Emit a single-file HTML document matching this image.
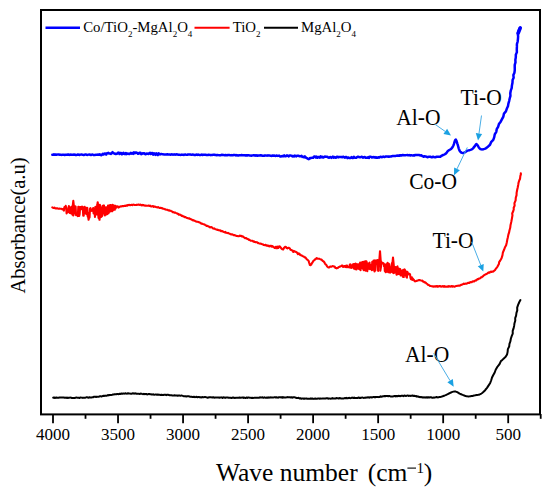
<!DOCTYPE html>
<html><head><meta charset="utf-8"><style>
html,body{margin:0;padding:0;background:#fff;}
body{width:550px;height:491px;overflow:hidden;}
svg{display:block;}
text{font-family:"Liberation Serif",serif;fill:#000;}
</style></head><body>
<svg width="550" height="491" viewBox="0 0 550 491">
<rect x="0" y="0" width="550" height="491" fill="#fff"/>
<g fill="none" stroke-linejoin="round" stroke-linecap="round">
<path d="M52.30 207.37 L52.98 207.66 L53.73 207.96 L54.38 207.60 L55.07 208.31 L55.78 208.42 L56.49 208.40 L57.17 208.31 L57.80 208.55 L58.42 208.71 L59.20 208.57 L59.95 208.82 L60.70 208.75 L61.47 208.79 L62.09 209.32 L62.76 209.48 L63.00 209.14 L63.45 209.77 L63.90 210.62 L64.35 207.29 L64.80 206.91 L65.25 208.01 L65.70 205.86 L66.15 207.48 L66.60 213.39 L67.05 212.25 L67.50 210.72 L67.95 212.13 L68.40 208.27 L68.85 206.10 L69.30 206.68 L69.75 212.87 L70.20 211.45 L70.65 208.05 L71.10 213.48 L71.55 206.71 L72.00 207.69 L72.45 214.75 L72.90 206.73 L72.20 210.64 L73.30 200.80 L74.40 210.64 L73.35 215.54 L73.80 213.78 L74.25 212.91 L74.70 206.16 L75.15 207.03 L75.60 206.50 L76.05 215.21 L76.50 214.19 L76.95 215.21 L77.40 214.72 L77.85 216.09 L78.30 206.88 L78.75 206.84 L79.20 216.06 L79.65 213.92 L80.10 207.11 L80.55 207.74 L81.00 209.33 L81.45 206.89 L81.90 208.61 L82.35 206.67 L82.80 207.85 L83.25 215.74 L83.70 215.70 L84.15 208.00 L84.60 206.71 L85.05 213.27 L85.50 208.78 L85.95 207.82 L86.40 214.12 L86.85 208.24 L87.30 207.84 L87.75 216.63 L88.20 216.76 L87.50 212.30 L88.60 219.80 L89.70 212.30 L88.65 214.05 L89.10 217.81 L89.55 217.55 L90.00 208.82 L90.45 208.10 L90.90 210.74 L91.35 210.04 L91.80 210.83 L92.25 210.13 L92.70 209.33 L93.15 208.05 L93.60 213.46 L94.05 208.58 L94.50 209.42 L94.95 216.95 L95.40 206.89 L95.85 208.83 L96.30 207.50 L96.75 214.42 L97.20 204.51 L97.65 214.24 L96.60 211.29 L97.70 202.20 L98.80 211.29 L98.10 212.55 L98.55 217.92 L99.00 216.80 L99.45 206.54 L98.40 210.88 L99.50 219.80 L100.60 210.88 L99.90 204.76 L100.35 216.65 L100.80 207.32 L101.25 216.96 L101.70 216.24 L102.15 215.86 L102.60 205.91 L103.05 209.15 L103.50 207.02 L103.95 205.42 L104.40 214.05 L104.85 215.53 L105.30 213.41 L105.75 207.27 L106.20 207.36 L106.65 214.45 L107.10 213.09 L107.55 213.78 L108.00 205.66 L108.45 213.31 L108.90 212.33 L109.35 205.38 L109.80 205.37 L110.25 211.49 L110.70 204.93 L111.15 210.17 L111.60 206.72 L112.05 211.31 L112.50 204.70 L112.95 210.45 L113.40 205.26 L113.85 207.19 L114.30 209.68 L114.75 209.76 L115.20 205.67 L115.65 208.37 L116.10 206.65 L116.55 206.42 L117.00 206.62 L117.45 206.42 L117.90 206.72 L118.35 207.65 L118.80 206.76 L119.03 207.28 L119.82 206.70 L120.43 206.41 L121.04 206.43 L121.65 206.47 L122.44 205.97 L123.23 206.12 L124.02 205.90 L124.81 205.91 L125.59 205.97 L126.39 205.40 L127.19 205.64 L127.80 205.06 L128.58 205.10 L129.36 204.86 L130.13 205.31 L130.90 205.01 L131.67 204.74 L132.45 205.22 L133.24 204.73 L133.84 204.62 L134.45 204.89 L135.07 205.07 L135.70 205.07 L136.34 204.93 L137.00 204.64 L137.74 204.87 L138.50 204.57 L139.27 204.85 L140.07 204.71 L140.67 204.63 L141.28 205.36 L141.89 205.02 L142.50 204.91 L143.12 205.35 L143.74 205.05 L144.36 205.54 L144.97 205.66 L145.59 205.48 L146.20 205.62 L146.81 205.71 L147.41 205.72 L148.20 205.61 L148.81 205.49 L149.42 206.03 L150.02 205.62 L150.62 206.16 L151.42 206.41 L152.21 206.34 L153.01 206.11 L153.80 206.87 L154.60 206.55 L155.39 206.73 L156.19 207.21 L156.99 207.30 L157.59 207.46 L158.20 207.12 L158.98 207.65 L159.75 208.02 L160.53 207.81 L161.30 208.08 L162.08 208.15 L162.86 208.70 L163.63 208.68 L164.42 209.14 L165.20 209.19 L165.98 209.75 L166.76 209.73 L167.54 209.82 L168.33 210.35 L169.11 210.30 L169.87 210.70 L170.62 210.76 L171.36 211.15 L172.11 211.49 L172.85 212.30 L173.60 212.16 L174.35 212.65 L175.09 212.54 L175.84 212.87 L176.59 213.17 L177.33 213.71 L178.08 213.89 L178.83 214.74 L179.57 214.48 L180.31 214.82 L181.07 215.20 L181.82 215.96 L182.57 215.74 L183.33 216.58 L184.08 216.48 L184.83 217.19 L185.58 217.12 L186.33 217.62 L187.08 218.00 L187.83 218.15 L188.58 218.47 L189.33 218.37 L190.09 219.06 L190.84 219.11 L191.59 219.74 L192.34 219.76 L193.09 220.49 L193.84 220.25 L194.59 220.79 L195.35 221.12 L196.10 221.57 L196.85 221.79 L197.60 221.72 L198.35 221.99 L199.11 222.35 L199.86 222.59 L200.61 223.02 L201.36 223.71 L202.11 223.64 L202.86 223.97 L203.62 224.15 L204.37 224.46 L205.12 224.98 L205.87 225.31 L206.62 225.86 L207.37 225.92 L208.13 226.35 L208.88 226.57 L209.63 227.16 L210.38 227.41 L211.13 227.06 L211.88 227.36 L212.64 228.07 L213.39 228.60 L214.16 228.40 L214.93 228.91 L215.71 229.23 L216.48 229.45 L217.26 229.97 L218.03 229.78 L218.81 230.30 L219.58 230.33 L220.35 230.34 L221.11 231.25 L221.87 230.88 L222.62 231.21 L223.37 231.81 L224.10 232.12 L224.72 232.42 L225.35 231.96 L226.00 232.67 L226.64 232.83 L227.30 233.14 L227.95 232.83 L228.59 233.23 L229.23 233.54 L229.85 233.82 L230.46 234.23 L231.25 234.38 L231.99 234.36 L232.68 234.50 L233.31 234.95 L234.00 235.32 L234.69 235.14 L235.39 235.57 L236.05 235.77 L236.78 236.01 L237.50 236.01 L238.20 236.28 L238.95 236.27 L239.75 235.66 L240.40 235.90 L241.08 235.79 L241.80 236.49 L242.42 236.30 L243.05 236.46 L243.70 237.20 L244.37 237.61 L245.07 238.11 L245.80 237.94 L246.57 238.48 L247.17 238.90 L247.80 239.03 L248.45 239.40 L249.06 239.94 L249.74 239.89 L250.47 240.63 L251.24 240.74 L252.04 240.79 L252.65 240.81 L253.28 241.60 L253.91 241.22 L254.53 241.92 L255.16 242.11 L255.78 242.06 L256.39 242.28 L257.18 242.27 L257.93 243.08 L258.64 243.12 L259.30 243.38 L260.12 243.68 L260.81 243.45 L261.57 244.05 L262.24 244.18 L262.87 244.26 L263.54 244.90 L264.30 244.93 L264.98 245.11 L265.66 244.82 L266.33 245.57 L267.07 245.85 L267.87 245.41 L268.50 246.18 L269.14 245.77 L269.80 246.34 L270.47 245.76 L271.13 245.70 L271.80 246.64 L272.45 245.99 L273.08 246.79 L273.70 247.04 L274.47 247.89 L275.18 248.09 L275.82 246.88 L276.44 246.75 L277.04 248.31 L277.79 246.52 L278.40 247.92 L279.05 246.42 L279.76 246.31 L280.37 247.23 L281.06 247.99 L281.74 248.83 L282.46 249.22 L283.19 249.45 L283.80 248.14 L284.45 247.58 L285.19 246.69 L285.92 246.96 L286.62 248.00 L287.39 248.39 L288.18 247.72 L288.98 247.86 L289.75 248.33 L290.48 249.66 L291.22 249.94 L291.95 250.47 L292.66 250.45 L293.33 252.02 L293.96 251.03 L294.63 251.18 L295.24 251.76 L295.94 251.87 L296.62 252.15 L297.34 253.11 L298.01 254.21 L298.71 253.41 L299.53 253.71 L300.15 255.07 L300.79 255.27 L301.51 255.31 L302.27 255.92 L303.05 256.31 L303.81 256.60 L304.52 257.36 L305.18 257.31 L305.86 257.98 L306.50 259.00 L307.24 259.69 L307.91 260.06 L308.61 260.88 L309.07 262.57 L309.48 263.60 L309.81 265.05 L310.50 265.17 L311.14 264.73 L311.84 263.21 L312.47 262.53 L313.14 261.27 L313.87 260.42 L314.49 260.03 L315.13 259.29 L315.76 259.17 L316.50 258.16 L317.13 258.20 L317.74 258.69 L318.52 258.81 L319.30 258.69 L320.06 259.09 L320.81 259.46 L321.56 259.56 L322.31 260.55 L323.02 261.18 L323.67 261.50 L324.33 262.28 L324.98 263.56 L325.64 264.44 L326.33 264.92 L327.03 266.23 L327.72 266.96 L328.37 267.49 L329.10 267.57 L329.84 266.82 L330.59 266.46 L331.38 266.69 L331.98 266.41 L332.60 266.01 L333.22 266.33 L334.00 266.63 L334.64 266.56 L335.36 267.94 L335.98 268.07 L336.65 268.37 L337.29 268.02 L337.98 267.99 L338.70 266.93 L339.44 266.86 L340.19 266.48 L340.95 266.23 L341.73 265.54 L342.53 265.55 L343.00 266.94 L343.45 266.75 L343.90 266.43 L344.35 266.10 L344.80 266.08 L345.25 267.02 L345.70 265.81 L346.15 267.17 L346.60 265.53 L347.05 265.63 L347.50 267.06 L347.95 267.26 L348.40 267.03 L348.85 267.10 L349.30 267.31 L349.75 264.78 L350.20 264.35 L350.65 267.67 L351.10 267.01 L351.55 267.88 L352.00 266.82 L352.45 264.59 L352.90 264.94 L353.35 264.22 L353.80 268.56 L354.25 264.08 L354.70 267.45 L355.15 269.14 L355.60 263.61 L356.05 264.32 L356.50 269.34 L356.95 264.27 L357.40 268.47 L357.85 264.40 L358.30 267.00 L358.75 268.86 L359.20 264.14 L359.65 269.13 L360.10 262.50 L360.55 270.21 L361.00 264.07 L361.45 262.58 L361.90 264.57 L362.35 262.09 L362.80 268.62 L363.25 261.86 L363.70 270.10 L364.15 264.86 L364.60 269.40 L365.05 261.38 L365.50 270.61 L365.95 261.35 L366.40 261.23 L366.85 262.81 L367.30 271.20 L367.75 263.84 L368.20 268.88 L368.65 263.54 L369.10 263.26 L369.55 262.67 L370.00 269.12 L370.45 268.47 L370.90 264.95 L371.35 265.00 L371.80 270.17 L372.25 261.76 L372.70 267.88 L373.15 269.70 L373.60 260.48 L374.05 261.51 L374.50 271.50 L374.95 260.35 L375.40 270.53 L375.85 262.02 L376.30 263.31 L376.75 260.42 L377.20 262.99 L377.65 260.00 L378.10 270.83 L378.55 262.59 L379.00 261.67 L379.45 261.89 L379.90 260.36 L378.90 266.13 L380.00 251.20 L381.10 266.13 L380.35 270.65 L380.80 260.71 L381.25 262.90 L381.70 262.94 L382.15 262.63 L382.60 262.78 L383.05 263.93 L383.50 263.41 L383.95 266.05 L384.40 264.33 L384.85 271.09 L385.30 271.54 L385.75 272.19 L386.20 264.19 L386.65 269.59 L387.10 271.67 L387.55 262.81 L388.00 271.70 L388.45 272.25 L388.90 263.79 L389.35 272.38 L389.80 272.39 L390.25 272.60 L390.70 272.10 L391.15 266.62 L391.60 264.43 L392.05 262.94 L392.50 272.21 L392.95 272.54 L391.90 268.24 L393.00 257.60 L394.10 268.24 L393.40 268.09 L393.85 273.08 L394.30 272.66 L394.75 270.61 L395.20 271.98 L395.65 266.97 L396.10 272.12 L396.55 274.65 L397.00 267.15 L397.45 266.46 L397.90 274.31 L398.35 272.23 L398.80 268.51 L399.25 273.83 L399.70 272.00 L400.15 269.08 L400.60 275.50 L401.05 274.44 L401.50 275.18 L401.95 270.63 L402.40 274.52 L402.85 276.73 L403.30 269.88 L403.75 277.07 L404.20 270.92 L404.65 269.43 L405.10 270.45 L405.55 270.96 L406.00 275.59 L406.45 277.00 L406.90 277.57 L407.35 271.77 L407.80 274.58 L408.25 273.25 L408.70 274.03 L409.15 274.29 L409.60 273.84 L410.05 274.37 L410.50 277.87 L410.95 279.19 L411.40 278.93 L411.85 277.32 L412.30 279.86 L412.75 278.48 L413.20 279.47 L413.65 279.53 L414.37 280.85 L415.12 281.34 L415.73 281.14 L416.36 280.80 L417.02 280.85 L417.68 280.62 L418.33 280.27 L418.97 280.10 L419.59 280.07 L420.35 280.35 L421.15 280.59 L421.75 280.74 L422.47 280.66 L423.14 281.63 L423.83 281.81 L424.58 282.51 L425.30 282.35 L425.92 282.78 L426.55 283.62 L427.21 283.88 L427.89 284.71 L428.59 284.90 L429.31 285.32 L430.04 285.98 L430.80 286.08 L431.50 286.21 L432.12 286.27 L432.73 286.34 L433.36 286.74 L434.06 286.22 L434.86 286.72 L435.56 286.51 L436.37 286.00 L436.98 286.62 L437.64 286.07 L438.29 286.60 L438.90 286.44 L439.58 285.99 L440.30 286.05 L441.06 286.64 L441.66 286.45 L442.28 286.21 L442.92 286.11 L443.57 286.67 L444.24 286.06 L444.91 286.68 L445.59 286.50 L446.28 286.67 L446.97 286.71 L447.66 286.34 L448.35 286.69 L449.04 286.12 L449.72 286.51 L450.39 286.65 L451.05 286.29 L451.69 286.11 L452.32 286.56 L452.94 286.07 L453.72 286.45 L454.47 286.64 L455.17 286.49 L455.81 286.02 L456.74 286.07 L457.36 285.83 L458.19 285.74 L458.90 285.60 L459.51 285.61 L460.21 285.55 L460.82 284.89 L461.54 284.87 L462.30 284.60 L463.00 284.20 L463.60 283.65 L464.33 284.01 L465.09 283.75 L465.87 283.63 L466.47 283.60 L467.08 283.53 L467.69 283.03 L468.31 282.83 L468.92 282.75 L469.53 282.95 L470.13 282.15 L470.91 282.31 L471.67 282.21 L472.40 281.46 L473.19 281.27 L473.97 281.51 L474.73 280.99 L475.48 280.38 L476.21 280.43 L476.92 279.67 L477.62 279.16 L478.29 279.26 L478.96 278.59 L479.60 278.47 L480.37 278.10 L481.10 277.22 L481.80 277.17 L482.48 276.52 L483.14 276.22 L483.79 275.37 L484.44 275.03 L485.10 274.62 L485.86 274.20 L486.62 273.86 L487.38 273.54 L488.13 272.74 L488.85 272.38 L489.54 272.71 L490.20 271.92 L490.87 271.54 L491.49 271.99 L492.27 271.49 L493.03 271.65 L493.80 271.13 L494.48 270.44 L495.09 270.08 L495.70 268.84 L496.32 268.17 L496.93 267.32 L497.54 266.59 L498.99 263.80 L499.12 262.11 L500.13 260.75 L501.55 258.23 L502.49 255.11 L502.89 252.46 L503.96 250.05 L504.86 247.59 L506.13 245.31 L506.78 242.54 L507.27 239.84 L507.87 237.21 L508.37 234.63 L509.02 232.67 L509.52 230.21 L510.22 227.78 L510.49 225.34 L511.06 222.88 L511.40 221.31 L511.94 218.41 L512.47 215.26 L512.19 213.48 L513.28 211.05 L513.75 209.49 L513.69 207.79 L514.63 205.61 L514.44 203.22 L515.62 200.37 L515.77 197.70 L516.56 195.09 L516.60 192.89 L517.13 190.05 L517.77 187.23 L518.23 184.74 L518.56 182.63 L519.34 180.27 L520.05 178.70 L520.36 175.90 L520.89 174.36 L520.80 173.20" stroke="#ff0000" stroke-width="2.1"/>
<path d="M52.30 154.78 L53.08 154.77 L53.89 154.35 L54.72 154.82 L55.49 154.40 L56.40 154.69 L57.16 154.60 L58.01 154.40 L58.96 154.53 L60.00 154.85 L60.72 154.82 L61.50 154.89 L62.33 154.65 L63.21 154.75 L63.95 154.76 L64.71 154.94 L65.49 154.77 L66.29 154.84 L67.11 154.81 L67.95 154.50 L68.80 154.52 L69.66 154.91 L70.53 154.58 L71.41 154.82 L72.29 154.70 L73.17 154.62 L74.05 154.68 L74.93 154.60 L75.80 154.99 L76.67 155.01 L77.52 154.57 L78.36 154.62 L79.19 154.96 L80.00 154.70 L80.81 154.62 L81.62 154.60 L82.45 154.66 L83.29 154.89 L84.13 154.96 L84.98 154.49 L85.83 154.54 L86.68 154.75 L87.53 154.93 L88.38 154.63 L89.23 154.53 L90.08 154.67 L90.92 154.99 L91.75 154.62 L92.58 154.51 L93.39 154.98 L94.19 154.88 L94.98 154.92 L95.75 154.83 L96.51 154.87 L97.25 154.68 L97.97 154.60 L98.84 154.75 L99.68 154.23 L100.53 154.92 L101.29 155.22 L102.03 154.76 L102.74 153.79 L103.66 154.50 L104.53 153.48 L105.36 153.56 L106.17 154.59 L106.94 153.20 L107.69 153.20 L108.41 152.85 L109.12 153.44 L109.98 153.56 L110.83 153.87 L111.67 153.27 L112.49 152.15 L113.40 152.90 L114.23 153.52 L115.02 153.79 L115.76 154.03 L116.49 153.75 L117.21 153.73 L117.95 152.79 L118.73 152.59 L119.56 154.03 L120.36 153.09 L121.11 152.93 L121.87 154.30 L122.65 153.97 L123.45 152.82 L124.26 153.78 L125.08 154.13 L125.90 152.97 L126.73 154.07 L127.56 153.42 L128.38 153.90 L129.19 154.11 L130.00 153.65 L130.80 152.86 L131.60 153.71 L132.40 152.96 L133.20 153.80 L134.00 152.31 L134.80 153.28 L135.60 152.48 L136.40 152.56 L137.20 152.90 L138.00 153.85 L138.80 153.52 L139.60 152.73 L140.40 152.67 L141.20 154.22 L142.00 153.78 L142.80 153.15 L143.60 153.53 L144.40 153.18 L145.20 154.19 L146.00 154.20 L146.80 153.44 L147.60 153.86 L148.40 153.92 L149.20 153.25 L150.00 152.77 L150.77 154.03 L151.49 153.27 L152.35 152.94 L153.19 154.71 L154.03 153.30 L154.73 153.90 L155.47 154.83 L156.27 153.27 L157.13 154.51 L157.84 155.07 L158.59 153.38 L159.42 153.85 L160.15 154.40 L160.93 154.06 L161.76 154.11 L162.64 154.31 L163.36 154.33 L164.11 154.54 L164.87 154.50 L165.66 154.60 L166.46 154.44 L167.28 154.24 L168.11 154.42 L168.95 154.42 L169.80 154.52 L170.66 154.69 L171.52 154.35 L172.39 154.49 L173.25 154.66 L174.12 154.36 L174.98 154.70 L175.84 154.41 L176.69 154.37 L177.54 154.38 L178.37 154.77 L179.19 154.63 L180.00 154.80 L180.80 154.91 L181.60 154.62 L182.40 154.81 L183.20 154.79 L184.00 154.92 L184.80 154.50 L185.60 154.53 L186.40 154.87 L187.20 154.71 L188.00 154.49 L188.80 154.54 L189.60 154.57 L190.40 154.59 L191.20 154.73 L192.00 154.68 L192.80 154.54 L193.60 154.63 L194.40 155.02 L195.20 155.04 L196.00 154.67 L196.80 154.56 L197.60 154.92 L198.40 154.57 L199.20 154.89 L200.00 154.93 L200.80 154.88 L201.60 154.53 L202.40 155.05 L203.20 154.80 L204.00 154.75 L204.80 154.70 L205.60 154.73 L206.40 154.93 L207.20 155.05 L208.00 154.97 L208.80 154.65 L209.60 154.88 L210.40 155.14 L211.20 154.88 L212.00 155.11 L212.80 154.82 L213.60 154.68 L214.40 154.65 L215.20 154.99 L216.00 155.09 L216.80 155.22 L217.60 154.93 L218.40 155.13 L219.20 155.21 L220.00 155.26 L220.80 155.17 L221.60 154.80 L222.40 154.86 L223.20 155.10 L224.00 155.08 L224.80 155.32 L225.60 154.89 L226.40 155.30 L227.20 155.20 L228.00 154.99 L228.80 155.05 L229.60 155.08 L230.40 155.37 L231.20 155.07 L232.00 155.34 L232.80 155.33 L233.60 154.94 L234.40 155.03 L235.20 154.98 L236.00 155.49 L236.80 155.04 L237.60 155.43 L238.40 155.54 L239.20 155.18 L240.00 155.22 L240.80 155.20 L241.60 155.09 L242.40 155.28 L243.20 155.17 L244.00 155.27 L244.80 155.34 L245.60 155.60 L246.40 155.14 L247.20 155.56 L248.00 155.21 L248.80 155.31 L249.60 155.40 L250.40 155.61 L251.20 155.69 L252.00 155.52 L252.80 155.36 L253.60 155.19 L254.40 155.55 L255.20 155.24 L256.00 155.74 L256.80 155.22 L257.60 155.71 L258.40 155.40 L259.20 155.61 L260.00 155.31 L260.80 155.25 L261.60 155.50 L262.40 155.74 L263.20 155.77 L264.00 155.84 L264.80 155.39 L265.60 155.46 L266.40 155.62 L267.20 155.66 L268.00 155.31 L268.80 155.59 L269.60 155.55 L270.40 155.64 L271.20 155.91 L272.00 155.81 L272.80 155.46 L273.60 155.84 L274.40 155.54 L275.20 155.97 L276.00 155.80 L276.80 155.58 L277.60 155.88 L278.40 155.73 L279.20 155.62 L280.00 156.45 L280.81 156.50 L281.65 156.31 L282.50 155.92 L283.37 156.34 L284.26 155.44 L285.15 156.30 L286.05 156.19 L286.96 155.31 L287.86 155.78 L288.77 156.35 L289.67 155.50 L290.56 155.57 L291.44 155.63 L292.30 156.40 L293.15 155.91 L293.98 156.54 L294.78 155.51 L295.56 156.05 L296.31 156.41 L297.02 155.76 L297.87 155.77 L298.65 155.84 L299.36 156.37 L300.56 156.24 L301.48 155.75 L302.41 156.96 L303.16 156.65 L304.00 157.34 L304.84 156.44 L305.62 157.17 L306.34 158.10 L307.20 158.27 L307.90 158.85 L308.68 159.13 L309.40 158.81 L310.16 157.93 L311.00 157.95 L311.80 157.83 L312.51 157.65 L313.21 157.75 L314.11 156.51 L314.96 156.46 L316.00 157.60 L316.71 156.67 L317.48 157.66 L318.30 157.05 L319.17 157.11 L319.90 157.60 L320.66 156.36 L321.45 157.27 L322.27 156.69 L323.11 157.53 L323.97 157.06 L324.85 156.52 L325.75 156.69 L326.67 156.63 L327.61 157.02 L328.32 157.60 L329.03 157.78 L329.76 157.22 L330.51 157.05 L331.39 157.85 L332.10 157.27 L332.82 156.64 L333.55 157.58 L334.30 157.10 L335.05 157.60 L335.82 157.75 L336.59 157.00 L337.38 156.66 L338.17 157.37 L338.97 157.01 L339.78 156.88 L340.60 157.03 L341.42 156.90 L342.26 157.33 L343.10 156.67 L343.94 157.22 L344.79 157.63 L345.65 156.98 L346.51 156.94 L347.38 158.07 L348.25 157.44 L349.12 157.97 L350.00 157.97 L350.74 157.89 L351.50 157.15 L352.27 158.03 L353.06 157.91 L353.86 156.83 L354.67 157.80 L355.49 157.70 L356.32 157.73 L357.16 157.09 L358.00 156.69 L358.85 157.07 L359.70 157.16 L360.55 157.23 L361.40 156.74 L362.25 157.00 L363.10 157.63 L363.94 157.27 L364.78 157.07 L365.62 157.77 L366.44 157.62 L367.26 157.77 L368.07 157.13 L368.87 157.99 L369.65 156.71 L370.42 156.65 L371.17 156.87 L371.91 157.50 L372.62 157.20 L373.49 156.97 L374.25 157.40 L374.99 156.98 L375.71 157.78 L376.42 157.32 L377.35 157.78 L378.26 157.16 L379.14 157.66 L380.01 156.92 L380.85 156.74 L381.67 157.16 L382.48 156.98 L383.27 156.56 L384.04 156.96 L384.79 156.90 L385.53 156.53 L386.25 156.42 L386.96 156.41 L387.83 156.67 L388.68 156.48 L389.51 156.66 L390.26 156.42 L390.97 156.59 L391.84 156.18 L392.61 156.06 L393.31 156.08 L394.13 156.08 L394.94 156.00 L395.77 155.90 L396.48 155.70 L397.27 155.59 L398.15 155.68 L398.89 155.49 L399.71 155.66 L400.47 155.16 L401.32 155.59 L402.06 155.23 L402.84 154.98 L403.66 155.37 L404.52 155.31 L405.40 155.25 L406.31 155.12 L407.23 154.98 L408.16 155.27 L408.87 155.34 L409.57 155.09 L410.27 155.51 L410.98 155.16 L411.90 155.30 L412.81 155.39 L413.70 155.35 L414.56 155.39 L415.38 154.89 L416.17 154.95 L416.92 154.99 L417.78 154.94 L418.56 155.05 L419.37 154.96 L420.39 155.58 L421.34 155.33 L422.15 155.95 L422.89 156.20 L423.69 156.73 L424.44 156.27 L425.31 156.52 L426.09 156.51 L426.97 157.01 L427.76 157.22 L428.64 156.80 L429.43 156.65 L430.28 156.73 L431.17 157.19 L432.09 157.33 L432.80 156.70 L433.50 156.73 L434.20 157.11 L435.12 157.36 L436.00 156.99 L436.84 156.65 L437.61 156.65 L438.47 156.67 L439.18 156.82 L440.25 156.78 L441.01 156.08 L441.85 155.58 L442.58 155.25 L443.39 154.89 L444.21 154.51 L444.99 154.11 L445.80 153.60 L446.57 152.83 L447.34 151.67 L448.15 150.77 L449.00 150.20 L449.75 149.78 L450.49 149.34 L451.30 148.70 L452.05 147.86 L452.77 146.75 L453.40 145.50 L453.90 144.13 L454.26 142.89 L454.62 141.65 L455.05 140.36 L455.77 139.51 L456.49 140.79 L456.87 142.04 L457.26 143.37 L457.68 144.63 L458.08 146.03 L458.43 147.33 L458.79 148.60 L459.23 149.90 L459.90 151.20 L460.61 152.07 L461.37 152.63 L462.19 152.95 L463.00 152.95 L463.85 152.74 L464.65 152.44 L465.36 152.12 L466.15 151.42 L467.00 150.90 L467.80 150.62 L468.59 150.40 L469.44 150.17 L470.30 149.92 L471.12 149.63 L471.84 149.29 L472.68 148.68 L473.43 147.89 L474.21 146.89 L475.00 145.90 L475.74 144.73 L476.52 144.03 L477.30 144.78 L478.09 146.18 L478.80 147.46 L479.70 148.58 L480.47 149.09 L481.24 149.34 L482.08 149.40 L482.85 149.35 L483.64 149.19 L484.46 148.91 L485.29 148.54 L486.05 148.11 L486.80 147.60 L487.54 147.02 L488.29 146.34 L490.01 144.73 L491.07 142.20 L493.27 139.92 L494.24 137.15 L494.74 134.38 L496.28 131.81 L496.73 129.17 L498.10 126.78 L498.92 124.04 L500.69 121.66 L502.00 119.15 L503.36 116.57 L503.98 113.59 L505.90 111.44 L506.76 108.78 L507.94 106.25 L508.39 103.60 L509.14 101.05 L509.68 98.54 L510.43 95.84 L510.28 93.23 L510.75 90.67 L511.67 88.08 L511.92 85.44 L512.48 82.79 L512.60 79.97 L513.64 77.65 L513.38 75.07 L514.44 72.67 L514.76 70.10 L514.74 67.56 L514.73 64.94 L515.48 62.41 L515.35 59.86 L515.82 57.33 L515.82 54.68 L516.88 52.13 L516.79 49.48 L516.89 46.88 L516.92 44.14 L517.69 41.49 L517.95 38.85 L518.14 36.28 L517.73 33.63 L518.52 31.03 L519.73 28.32 L520.30 27.60" stroke="#0000ff" stroke-width="2.5"/>
<path d="M518.2 33 L520.2 28" stroke="#0000ff" stroke-width="3.6"/>
<path d="M53.20 397.74 L53.98 397.42 L54.77 397.98 L55.50 397.73 L56.30 397.46 L57.16 397.74 L57.89 397.82 L58.65 397.68 L59.44 397.44 L60.26 397.47 L61.10 397.58 L61.96 397.60 L62.85 397.54 L63.75 397.53 L64.66 397.82 L65.59 397.60 L66.29 397.90 L66.99 397.49 L67.70 398.01 L68.41 397.71 L69.12 397.75 L69.82 397.61 L70.53 397.60 L71.24 397.78 L71.94 398.00 L72.86 397.97 L73.78 398.08 L74.68 398.01 L75.56 397.66 L76.43 397.48 L77.27 397.63 L78.09 397.69 L78.88 397.75 L79.64 398.02 L80.37 397.52 L81.23 397.61 L82.16 397.63 L82.89 397.91 L83.60 397.66 L84.51 397.73 L85.39 397.76 L86.24 397.24 L87.05 397.26 L87.85 397.63 L88.62 397.72 L89.37 397.16 L90.11 397.46 L90.84 397.42 L91.57 397.43 L92.29 397.29 L93.01 397.29 L93.74 396.84 L94.48 396.70 L95.23 396.68 L95.99 397.01 L96.77 396.71 L97.58 396.87 L98.42 396.79 L99.28 396.62 L100.05 396.19 L100.79 396.15 L101.55 396.55 L102.32 396.20 L103.10 395.82 L103.89 396.03 L104.68 395.76 L105.49 395.62 L106.30 395.81 L107.12 395.47 L107.94 395.09 L108.76 395.43 L109.59 394.90 L110.42 395.09 L111.25 395.04 L112.08 394.88 L112.90 394.54 L113.73 394.54 L114.54 394.25 L115.36 394.26 L116.17 394.33 L116.97 394.03 L117.77 394.08 L118.55 394.22 L119.33 393.72 L120.09 394.01 L120.84 393.72 L121.62 393.55 L122.51 393.74 L123.42 393.38 L124.33 393.68 L125.25 393.33 L126.18 393.58 L127.11 393.72 L128.03 393.27 L128.95 393.45 L129.86 393.62 L130.76 393.66 L131.65 393.74 L132.52 393.32 L133.37 393.37 L134.20 393.70 L135.00 393.30 L135.77 393.42 L136.51 393.87 L137.22 393.87 L138.04 393.63 L138.81 393.86 L139.63 393.94 L140.57 393.62 L141.47 393.65 L142.20 393.90 L143.20 394.19 L143.90 393.81 L144.69 394.24 L145.41 393.88 L146.18 393.94 L147.00 394.43 L147.86 394.27 L148.58 394.06 L149.33 393.98 L150.10 394.20 L150.89 394.24 L151.71 394.56 L152.54 394.56 L153.39 394.33 L154.25 394.73 L155.13 394.62 L156.03 394.53 L156.93 394.73 L157.84 394.46 L158.76 394.81 L159.68 394.79 L160.61 394.94 L161.53 394.67 L162.46 394.98 L163.39 394.99 L164.32 394.66 L165.24 394.73 L166.16 395.19 L167.06 394.75 L167.96 394.81 L168.85 394.96 L169.72 395.19 L170.58 395.24 L171.42 395.32 L172.25 395.47 L173.06 395.49 L173.84 395.58 L174.60 395.32 L175.34 395.51 L176.05 395.57 L176.88 395.48 L177.80 395.87 L178.69 395.43 L179.55 395.42 L180.38 395.83 L181.19 395.60 L181.97 395.62 L182.73 395.85 L183.47 396.13 L184.20 396.14 L184.91 396.26 L185.62 396.27 L186.32 396.56 L187.19 396.33 L188.06 396.22 L188.76 396.31 L189.47 396.39 L190.19 396.77 L190.91 396.73 L191.66 396.79 L192.42 397.09 L193.20 397.03 L194.00 396.77 L194.83 397.13 L195.69 397.05 L196.59 396.79 L197.51 397.28 L198.23 397.07 L198.97 396.89 L199.74 397.28 L200.49 397.24 L201.31 397.54 L202.14 396.98 L202.98 397.32 L203.83 397.16 L204.70 397.11 L205.57 397.12 L206.27 397.35 L206.99 397.45 L207.71 397.67 L208.43 397.59 L209.16 397.27 L209.90 397.25 L210.65 397.28 L211.40 397.35 L212.16 397.57 L212.92 397.23 L213.69 397.27 L214.47 397.70 L215.25 397.50 L216.04 397.61 L216.84 397.39 L217.64 397.42 L218.45 397.41 L219.26 397.73 L220.08 397.46 L220.91 397.55 L221.74 397.35 L222.58 397.90 L223.42 397.35 L224.27 397.39 L225.13 397.87 L225.99 397.41 L226.86 397.55 L227.73 397.52 L228.61 397.78 L229.50 397.71 L230.39 397.77 L231.29 397.93 L232.19 397.71 L233.10 397.49 L234.02 397.71 L234.94 397.91 L235.86 397.82 L236.79 397.86 L237.49 397.71 L238.20 397.85 L238.90 397.66 L239.62 397.47 L240.35 397.77 L241.10 397.64 L241.86 397.61 L242.63 397.40 L243.41 397.94 L244.21 397.52 L245.02 397.96 L245.83 397.89 L246.66 397.47 L247.50 397.92 L248.34 397.44 L249.20 397.59 L250.06 397.87 L250.93 397.71 L251.80 397.93 L252.68 397.87 L253.57 397.88 L254.46 397.77 L255.35 397.86 L256.25 397.71 L257.15 397.77 L258.05 397.64 L258.96 397.82 L259.87 397.30 L260.77 397.47 L261.68 397.45 L262.59 397.26 L263.49 397.76 L264.40 397.27 L265.30 397.73 L266.20 397.76 L267.10 397.45 L267.99 397.74 L268.88 397.28 L269.76 397.71 L270.64 397.29 L271.51 397.40 L272.37 397.59 L273.23 397.59 L274.08 397.34 L274.92 397.16 L275.75 397.53 L276.57 397.30 L277.39 397.56 L278.19 397.65 L278.98 397.17 L279.76 397.13 L280.52 397.28 L281.27 397.51 L282.01 397.10 L282.74 397.65 L283.45 397.20 L284.32 397.55 L285.16 397.45 L285.97 397.44 L286.76 397.37 L287.52 397.09 L288.25 397.13 L289.08 397.26 L289.87 397.21 L290.92 397.59 L291.76 397.15 L292.52 397.67 L293.53 397.29 L294.39 397.25 L295.13 397.38 L295.93 397.81 L296.70 397.99 L297.49 398.10 L298.19 397.82 L298.98 398.03 L299.80 398.60 L300.52 398.24 L301.44 398.76 L302.27 398.59 L303.24 398.53 L304.02 398.88 L304.76 398.42 L305.56 398.65 L306.39 398.39 L307.09 398.74 L307.82 398.75 L308.57 398.79 L309.34 398.85 L310.13 398.86 L310.95 398.34 L311.78 398.86 L312.63 398.56 L313.49 398.88 L314.36 398.75 L315.25 398.44 L316.15 398.68 L317.06 398.67 L317.97 398.56 L318.90 398.44 L319.82 398.86 L320.75 398.45 L321.68 398.63 L322.61 398.39 L323.54 398.43 L324.46 398.38 L325.38 398.61 L326.30 398.22 L327.21 398.22 L328.10 398.72 L328.99 398.39 L329.87 398.61 L330.73 398.65 L331.57 398.53 L332.40 398.13 L333.22 398.51 L334.01 398.49 L334.78 398.40 L335.53 398.56 L336.25 398.07 L337.12 398.25 L337.94 398.14 L338.72 398.54 L339.45 398.06 L340.40 398.18 L341.15 398.57 L342.16 398.49 L343.05 398.39 L343.82 398.46 L344.70 398.06 L345.44 398.31 L346.21 397.88 L347.00 398.29 L347.74 398.34 L348.54 397.90 L349.33 397.84 L350.09 398.22 L351.00 398.12 L351.80 397.71 L352.60 397.62 L353.46 398.11 L354.19 397.62 L354.95 397.99 L355.73 398.08 L356.54 398.04 L357.38 398.03 L358.23 397.52 L359.09 397.93 L359.97 397.67 L360.86 397.94 L361.75 397.58 L362.64 397.60 L363.54 397.92 L364.43 397.74 L365.32 397.62 L366.19 397.68 L367.06 397.33 L367.90 397.41 L368.73 397.33 L369.54 397.72 L370.32 397.18 L371.08 397.32 L371.80 397.51 L372.65 397.15 L373.45 397.06 L374.19 397.01 L375.02 397.40 L375.80 396.91 L376.52 396.92 L377.41 396.97 L378.24 397.14 L379.00 396.95 L379.73 396.91 L380.59 396.33 L381.43 396.73 L382.28 396.50 L382.98 396.34 L383.72 396.19 L384.50 395.98 L385.28 396.33 L386.04 396.07 L386.77 396.03 L387.50 395.90 L388.22 396.30 L388.95 395.92 L389.69 396.06 L390.44 396.41 L391.22 396.43 L392.04 396.49 L392.89 396.44 L393.79 396.13 L394.50 395.95 L395.24 396.41 L396.00 396.06 L396.71 395.96 L397.45 396.26 L398.23 396.04 L399.04 395.81 L399.87 396.21 L400.72 395.96 L401.58 395.73 L402.46 395.64 L403.35 396.14 L404.23 395.60 L405.12 395.77 L406.00 395.96 L406.87 395.65 L407.72 395.45 L408.55 395.99 L409.36 395.84 L410.14 395.81 L410.89 395.93 L411.61 395.66 L412.44 395.49 L413.19 395.71 L413.99 396.02 L414.70 395.83 L415.53 396.17 L416.25 396.03 L417.06 396.65 L417.83 396.40 L418.63 396.74 L419.33 397.14 L420.14 396.95 L421.07 397.18 L421.92 397.12 L422.78 397.59 L423.53 397.36 L424.32 397.46 L425.14 397.31 L425.99 397.70 L426.86 397.27 L427.75 397.66 L428.65 397.23 L429.55 397.54 L430.45 397.21 L431.34 397.36 L432.22 397.74 L433.07 397.71 L433.90 397.40 L434.69 397.68 L435.44 397.37 L436.14 397.08 L436.95 397.09 L437.69 397.46 L438.48 397.28 L439.39 397.05 L440.17 396.92 L441.03 396.73 L441.82 396.49 L442.63 396.22 L443.35 395.96 L444.17 395.68 L444.90 395.42 L445.60 395.13 L446.33 394.79 L447.10 394.43 L447.88 394.04 L448.68 393.64 L449.47 393.24 L450.27 392.86 L451.05 392.50 L451.81 392.18 L452.54 391.90 L453.41 391.64 L454.20 391.50 L454.91 391.47 L455.76 391.59 L456.52 391.84 L457.23 392.19 L458.08 392.71 L458.95 393.25 L459.69 393.65 L460.47 393.96 L461.18 394.24 L461.90 394.55 L462.63 394.87 L463.38 395.19 L464.14 395.49 L464.91 395.78 L465.69 396.03 L466.49 396.22 L467.29 396.36 L468.09 396.42 L468.90 396.41 L469.75 396.34 L470.63 396.23 L471.51 396.08 L472.39 395.91 L473.26 395.73 L474.08 395.55 L474.86 395.37 L475.57 395.22 L476.51 395.05 L477.30 394.94 L478.10 394.86 L478.91 394.73 L479.79 394.40 L480.61 393.98 L481.39 393.52 L482.21 392.97 L483.03 392.33 L483.85 391.58 L484.61 390.77 L485.42 389.77 L487.02 387.89 L488.65 385.40 L490.19 382.94 L491.22 380.25 L492.03 377.49 L493.29 374.94 L494.71 372.47 L495.68 369.77 L497.14 367.20 L498.95 364.96 L499.79 363.60 L500.76 361.29 L502.58 359.66 L504.09 358.17 L505.65 356.82 L507.04 354.47 L507.62 351.85 L507.86 349.09 L509.18 346.57 L509.46 343.79 L510.38 341.44 L510.84 338.78 L511.69 336.11 L512.74 333.63 L512.69 330.86 L513.58 328.35 L514.17 325.73 L514.49 323.24 L515.26 320.71 L515.20 318.09 L516.10 315.64 L516.45 312.87 L517.27 310.40 L517.17 307.60 L518.09 304.89 L519.21 302.26 L520.40 300.10" stroke="#000" stroke-width="2"/>
</g>
<rect x="41" y="10" width="499" height="404.4" fill="none" stroke="#000" stroke-width="2"/>
<g stroke="#000" stroke-width="1.8"><line x1="53.00" y1="414" x2="53.00" y2="423.2"/><line x1="85.51" y1="414" x2="85.51" y2="418.8"/><line x1="118.03" y1="414" x2="118.03" y2="423.2"/><line x1="150.54" y1="414" x2="150.54" y2="418.8"/><line x1="183.06" y1="414" x2="183.06" y2="423.2"/><line x1="215.57" y1="414" x2="215.57" y2="418.8"/><line x1="248.09" y1="414" x2="248.09" y2="423.2"/><line x1="280.60" y1="414" x2="280.60" y2="418.8"/><line x1="313.11" y1="414" x2="313.11" y2="423.2"/><line x1="345.63" y1="414" x2="345.63" y2="418.8"/><line x1="378.14" y1="414" x2="378.14" y2="423.2"/><line x1="410.66" y1="414" x2="410.66" y2="418.8"/><line x1="443.17" y1="414" x2="443.17" y2="423.2"/><line x1="475.69" y1="414" x2="475.69" y2="418.8"/><line x1="508.20" y1="414" x2="508.20" y2="423.2"/><line x1="540.71" y1="414" x2="540.71" y2="418.8"/></g>
<g font-size="17"><text x="53.00" y="440" text-anchor="middle">4000</text><text x="118.03" y="440" text-anchor="middle">3500</text><text x="183.06" y="440" text-anchor="middle">3000</text><text x="248.09" y="440" text-anchor="middle">2500</text><text x="313.11" y="440" text-anchor="middle">2000</text><text x="378.14" y="440" text-anchor="middle">1500</text><text x="443.17" y="440" text-anchor="middle">1000</text><text x="508.20" y="440" text-anchor="middle">500</text></g>
<g stroke-width="2.5"><line x1="45.5" y1="27.7" x2="80" y2="27.7" stroke="#0000ff"/>
<line x1="194.5" y1="27.8" x2="229.6" y2="27.8" stroke="#ff0000" stroke-width="2"/>
<line x1="264" y1="27.8" x2="298" y2="27.8" stroke="#000" stroke-width="2"/></g>
<g font-size="14.8">
<text x="83.2" y="32.4">Co/TiO<tspan font-size="9" dy="5">2</tspan><tspan dy="-5">-MgAl</tspan><tspan font-size="9" dy="5">2</tspan><tspan dy="-5">O</tspan><tspan font-size="9" dy="5">4</tspan></text>
<text x="232.7" y="32.4">TiO<tspan font-size="9" dy="5">2</tspan></text>
<text x="301" y="32.4">MgAl<tspan font-size="9" dy="5">2</tspan><tspan dy="-5">O</tspan><tspan font-size="9" dy="5">4</tspan></text>
</g>
<g font-size="23.4">
<text transform="translate(396.3,125.1) scale(0.92,1)">Al-O</text>
<text transform="translate(460.6,105) scale(0.92,1)">Ti-O</text>
<text transform="translate(409.2,189.3) scale(0.92,1)">Co-O</text>
<text transform="translate(432.5,247.6) scale(0.92,1)">Ti-O</text>
<text transform="translate(405,361.5) scale(0.92,1)">Al-O</text>
</g>
<line x1="434.6" y1="124.0" x2="445.27" y2="131.48" stroke="#4aaee6" stroke-width="1"/><polygon points="451.00,135.50 443.43,134.10 447.11,128.86" fill="#1ba1e2"/><line x1="481.5" y1="115.5" x2="478.97" y2="133.57" stroke="#4aaee6" stroke-width="1"/><polygon points="478.00,140.50 475.80,133.12 482.14,134.01" fill="#1ba1e2"/><line x1="467.3" y1="147.4" x2="457.02" y2="168.89" stroke="#4aaee6" stroke-width="1"/><polygon points="454.00,175.20 454.13,167.50 459.91,170.27" fill="#1ba1e2"/><line x1="471.6" y1="241.8" x2="480.74" y2="265.08" stroke="#4aaee6" stroke-width="1"/><polygon points="483.30,271.60 477.76,266.25 483.72,263.91" fill="#1ba1e2"/><line x1="433.6" y1="353.3" x2="450.09" y2="380.70" stroke="#4aaee6" stroke-width="1"/><polygon points="453.70,386.70 447.35,382.35 452.83,379.05" fill="#1ba1e2"/>
<g font-size="25.5"><text x="216" y="480.5">Wave number</text><text x="367.8" y="480.5">(cm</text><text x="416.6" y="473.4" font-size="15">1</text><text x="423.8" y="480.5">)</text></g><line x1="407.4" y1="468.1" x2="416" y2="468.1" stroke="#000" stroke-width="1.1"/>
<text transform="translate(25,293.5) rotate(-90)" font-size="20.5">Absorbance(a.u)</text>
</svg>
</body></html>
